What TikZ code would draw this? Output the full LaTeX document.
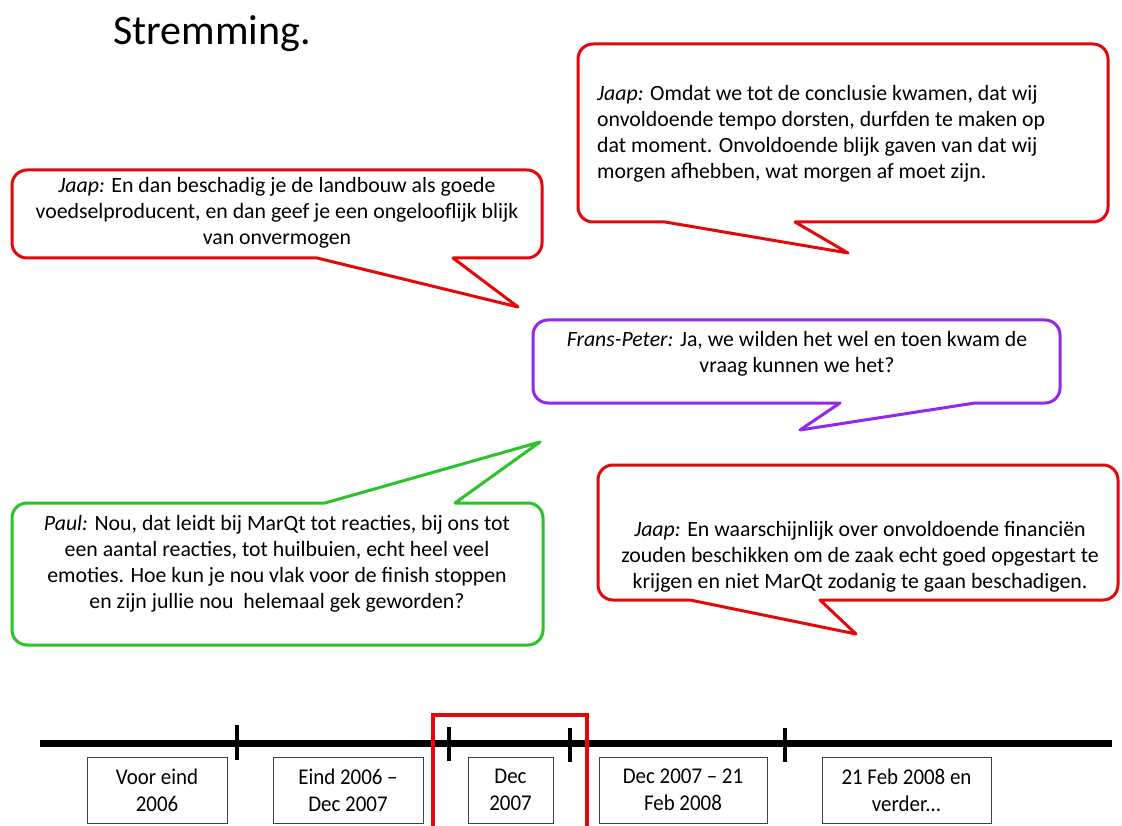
\documentclass[tikz,border=0pt]{standalone}
\usepackage{fontspec}
\setmainfont{Carlito}
\newfontfamily\condfont[FakeStretch=0.93]{Carlito}
\definecolor{bred}{RGB}{228,8,10}
\definecolor{bpurple}{RGB}{146,40,236}
\definecolor{bgreen}{RGB}{40,196,40}
\begin{document}
\begin{tikzpicture}[x=1pt,y=-1pt,
  bubble/.style={line width=3pt, line join=round, fill=white},
  saytext/.style={font=\fontsize{21.8}{25.8}\selectfont, inner sep=0pt, align=center},
  tlbox/.style={draw=black!75, line width=1pt, fill=white, minimum height=66pt, font=\condfont\fontsize{22.5}{27}\selectfont, align=center, inner sep=2pt},
  tickmark/.style={line width=4.5pt},
  timeline/.style={line width=7pt}]
\useasboundingbox[fill=white] (0,0) rectangle (1122,826);

% title
\node[anchor=base west, inner sep=0pt, font=\fontsize{42}{42}\selectfont] (title) at (113,45) {Stremming.};

% bubble 1 (top-left, red)
\draw[bubble, draw=bred] (12,215) [rounded corners=15pt] -- (12,170) -- (542,170) -- (542,258) -- (468,258)
  [sharp corners] -- (453,258) -- (518,307) -- (317,258) -- (302,258)
  [rounded corners=15pt] -- (12,258) -- cycle;
\node[saytext] (t1) at (277,213) {\textit{Jaap:} En dan beschadig je de landbouw als goede\\
voedselproducent, en dan geef je een ongelooflijk blijk\\ van onvermogen};

% bubble 2 (top-right, red)
\draw[bubble, draw=bred] (578,133) [rounded corners=15pt] -- (578,44) -- (1108,44) -- (1108,222) -- (810,222)
  [sharp corners] -- (795,222) -- (848,253) -- (665,222) -- (650,222)
  [rounded corners=15pt] -- (578,222) -- cycle;
\node[saytext, align=left, anchor=west] (t2) at (597,134) {\textit{Jaap:} Omdat we tot de conclusie kwamen, dat wij\\
onvoldoende tempo dorsten, durfden te maken op\\
dat moment. Onvoldoende blijk gaven van dat wij\\
morgen afhebben, wat morgen af moet zijn.};

% bubble 3 (purple)
\draw[bubble, draw=bpurple] (533,362) [rounded corners=15pt] -- (533,320) -- (1060,320) -- (1060,403) -- (990,403)
  [sharp corners] -- (975,403) -- (800,430) -- (840,403) -- (825,403)
  [rounded corners=15pt] -- (533,403) -- cycle;
\node[saytext] (t3) at (797,354) {\textit{Frans-Peter:} Ja, we wilden het wel en toen kwam de\\ vraag kunnen we het?};

% bubble 4 (green)
\draw[bubble, draw=bgreen] (12,575) [rounded corners=15pt] -- (12,503) -- (310,503)
  [sharp corners] -- (325,503) -- (540,442) -- (455,503) -- (470,503)
  [rounded corners=15pt] -- (543,503) -- (543,645) -- (12,645) -- cycle;
\node[saytext] (t4) at (277,564) {\textit{Paul:} Nou, dat leidt bij MarQt tot reacties, bij ons tot\\
een aantal reacties, tot huilbuien, echt heel veel\\
emoties. Hoe kun je nou vlak voor de finish stoppen\\
en zijn jullie nou\ \ helemaal gek geworden?};

% bubble 5 (bottom-right, red)
\draw[bubble, draw=bred] (598,532) [rounded corners=15pt] -- (598,465) -- (1118,465) -- (1118,600) -- (835,600)
  [sharp corners] -- (820,600) -- (856,634) -- (690,600) -- (675,600)
  [rounded corners=15pt] -- (598,600) -- cycle;
\node[saytext] (t5) at (860,557) {\textit{Jaap:} En waarschijnlijk over onvoldoende financiën\\
zouden beschikken om de zaak echt goed opgestart te\\
krijgen en niet MarQt zodanig te gaan beschadigen.};

% timeline
\draw[timeline] (40,743) -- (1112,743);
\draw[tickmark] (237,725) -- (237,760);
\draw[tickmark] (449,727) -- (449,761);
\draw[tickmark] (570,728) -- (570,762);
\draw[tickmark] (785,728) -- (785,762);
\draw[draw=bred, line width=4.3pt] (433,830) -- (433,715) -- (587,715) -- (587,830);

\node[tlbox, minimum width=140pt] (p1) at (157,790) {Voor eind\\2006};
\node[tlbox, minimum width=150pt] (p2) at (348,790) {Eind 2006 –\\Dec 2007};
\node[tlbox, minimum width=85pt] (p3) at (510.5,790) {Dec\\2007};
\node[tlbox, minimum width=168pt] (p4) at (683,790) {Dec 2007 – 21\\Feb 2008};
\node[tlbox, minimum width=169pt] (p5) at (906.5,790) {21 Feb 2008 en\\verder...};
\end{tikzpicture}
\end{document}
